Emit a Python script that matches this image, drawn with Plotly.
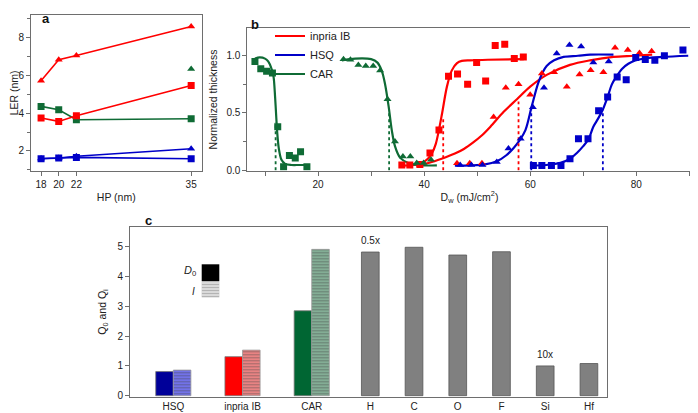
import plotly.graph_objects as go

FONT = "Liberation Sans, Arial, sans-serif"
RED = "#ff0000"
BLUE = "#0000c8"
GREEN = "#0f6b35"
AXC = "#6e6e6e"

# ---- panel a : LER vs half pitch
hp = [18, 20, 22, 35]
ler_inpria_tri = [5.70, 6.81, 7.03, 8.56]
ler_inpria_sq = [3.74, 3.56, 3.86, 5.45]
ler_car_sq = [4.35, 4.17, 3.65, 3.70]
ler_car_tri = [None, None, None, 6.32]
ler_hsq_tri = [1.60, 1.63, 1.72, 2.12]
ler_hsq_sq = [1.59, 1.63, 1.66, 1.59]

# ---- panel b : contrast curves (measured points)
car_sq_d = [8.1, 9.2, 10.3, 11.4, 12.4, 13.5, 14.6, 15.7, 16.7, 17.9]
car_sq_t = [0.95, 0.886, 0.865, 0.85, 0.38, 0.03, 0.127, 0.107, 0.16, 0.03]
car_tri_d = [24.8, 26.1, 27.6, 29.0, 30.4, 31.7, 33.1, 34.5, 36.0, 37.4, 38.6, 39.9, 41.3]
car_tri_t = [0.97, 0.965, 0.92, 0.91, 0.91, 0.87, 0.62, 0.25, 0.12, 0.12, 0.063, 0.063, 0.09]
inp_sq_d = [35.8, 37.3, 39.2, 41.1, 42.8, 44.6, 46.3, 48.2, 49.9, 51.6, 53.4, 55.2, 57.0, 58.7]
inp_sq_t = [0.045, 0.045, 0.05, 0.15, 0.35, 0.82, 0.84, 0.75, 0.94, 0.78, 1.09, 1.10, 0.975, 0.99]
inp_tri_d = [46.2, 48.6, 50.9, 53.1, 55.4, 57.8, 60.0, 62.2, 64.5, 66.9, 69.3, 71.4, 73.8, 76.0, 78.4, 80.6, 82.9]
inp_tri_t = [0.06, 0.06, 0.06, 0.465, 0.72, 0.75, 0.66, 0.845, 0.856, 0.73, 0.835, 0.873, 0.856, 1.07, 1.05, 1.025, 1.04]
hsq_tri_d = [46.8, 48.9, 51.0, 53.7, 55.9, 58.2, 60.5, 62.6, 65.0, 67.4, 69.6, 71.9, 74.8]
hsq_tri_t = [0.045, 0.045, 0.045, 0.07, 0.19, 0.275, 0.55, 0.72, 1.02, 1.095, 1.08, 0.94, 0.95]
hsq_sq_d = [60.6, 62.2, 64.0, 65.8, 67.5, 69.1, 70.9, 72.9, 74.6, 76.4, 78.1, 79.9, 81.7, 83.5, 85.3, 88.8]
hsq_sq_t = [0.04, 0.04, 0.04, 0.04, 0.10, 0.275, 0.275, 0.52, 0.64, 0.815, 0.79, 0.985, 0.967, 0.96, 1.0, 1.05]

# fitted curves
car_sq_fit_d = [8.1, 9.0, 10.0, 10.6, 11.2, 11.6, 11.9, 12.1, 12.3, 12.6, 13.1, 13.8, 15.0, 16.5, 18.4]
car_sq_fit_t = [0.975, 0.985, 0.975, 0.95, 0.89, 0.82, 0.64, 0.48, 0.33, 0.19, 0.09, 0.055, 0.045, 0.045, 0.045]
car_tri_fit_d = [24.5, 27.0, 30.0, 31.2, 32.0, 32.6, 33.3, 33.9, 34.5, 35.5, 37.0, 39.6, 42.4]
car_tri_fit_t = [0.96, 0.975, 0.97, 0.94, 0.87, 0.76, 0.56, 0.35, 0.21, 0.107, 0.063, 0.042, 0.042]
inp_sq_fit_d = [36.0, 38.0, 39.5, 40.7, 41.5, 42.2, 42.7, 43.4, 44.3, 45.2, 46.2, 47.1, 48.7, 52.0, 58.8]
inp_sq_fit_t = [0.04, 0.045, 0.06, 0.10, 0.15, 0.23, 0.33, 0.50, 0.73, 0.87, 0.935, 0.955, 0.96, 0.965, 0.97]
inp_tri_fit_d = [38.5, 41.0, 43.3, 45.8, 47.5, 49.2, 50.8, 52.5, 55.0, 57.5, 60.0, 63.2, 67.5, 71.3, 75.7, 79.5, 83.0]
inp_tri_fit_t = [0.04, 0.065, 0.10, 0.145, 0.185, 0.24, 0.30, 0.38, 0.51, 0.62, 0.73, 0.835, 0.92, 0.96, 0.99, 1.0, 1.01]
hsq_tri_fit_d = [45.8, 48.7, 51.5, 53.7, 55.5, 56.8, 58.0, 59.1, 60.3, 61.5, 62.3, 63.1, 64.5, 66.3, 69.0, 71.3, 75.7]
hsq_tri_fit_t = [0.04, 0.042, 0.05, 0.077, 0.13, 0.19, 0.26, 0.35, 0.56, 0.76, 0.85, 0.91, 0.96, 0.99, 1.0, 1.01, 1.01]
hsq_sq_fit_d = [60.3, 63.0, 65.7, 67.5, 68.8, 70.0, 71.0, 71.9, 72.8, 73.7, 74.6, 75.4, 76.3, 77.3, 78.5, 79.8, 82.0, 85.0, 89.8]
hsq_sq_fit_t = [0.04, 0.045, 0.063, 0.10, 0.15, 0.21, 0.27, 0.38, 0.45, 0.53, 0.64, 0.75, 0.82, 0.885, 0.93, 0.958, 0.98, 0.99, 1.0]

dose_marks = [12.0, 33.4, 43.6, 57.8, 60.2, 73.7]
dose_tops = [0.42, 0.50, 0.45, 0.60, 0.56, 0.53]
dose_cols = [GREEN, GREEN, RED, RED, BLUE, BLUE]

# ---- panel c : Q values
resists = ["HSQ", "inpria IB", "CAR"]
q_d0 = [0.81, 1.31, 2.85]
q_i = [0.86, 1.53, 4.91]
d0_colors = ["#000099", "#ff0000", "#006633"]
i_colors = ["#7878ff", "#ff8c8c", "#8cbca0"]
elements = ["H", "C", "O", "F", "Si", "Hf"]
q_el = [4.82, 4.98, 4.72, 4.83, 1.0, 1.08]
el_notes = {"H": "0.5x", "Si": "10x"}

fig = go.Figure()

# panel a
def a_line(y, col, sym):
    fig.add_trace(go.Scatter(x=hp, y=y, mode="lines+markers", xaxis="x", yaxis="y",
                             line=dict(color=col, width=1.6),
                             marker=dict(symbol=sym, size=7, color=col),
                             showlegend=False, connectgaps=False))

a_line(ler_inpria_tri, RED, "triangle-up")
a_line(ler_car_sq, GREEN, "square")
a_line(ler_inpria_sq, RED, "square")
a_line(ler_car_tri, GREEN, "triangle-up")
a_line(ler_hsq_tri, BLUE, "triangle-up")
a_line(ler_hsq_sq, BLUE, "square")

# panel b
fits = [
    (inp_sq_fit_d, inp_sq_fit_t, RED, "inpria IB", True, 1),
    (inp_tri_fit_d, inp_tri_fit_t, RED, "inpria IB", False, 1),
    (hsq_tri_fit_d, hsq_tri_fit_t, BLUE, "HSQ", True, 2),
    (hsq_sq_fit_d, hsq_sq_fit_t, BLUE, "HSQ", False, 2),
    (car_sq_fit_d, car_sq_fit_t, GREEN, "CAR", True, 3),
    (car_tri_fit_d, car_tri_fit_t, GREEN, "CAR", False, 3),
]
for d, t, col, name, show, rank in fits:
    fig.add_trace(go.Scatter(x=d, y=t, mode="lines", xaxis="x2", yaxis="y2",
                             line=dict(color=col, width=2.2, shape="spline", smoothing=0.9),
                             name=name, showlegend=show, legendrank=rank, legendgroup=name))

for xv, top, col in zip(dose_marks, dose_tops, dose_cols):
    fig.add_trace(go.Scatter(x=[xv, xv], y=[0, top], mode="lines", xaxis="x2", yaxis="y2",
                             line=dict(color=col, width=1.8, dash="dot"), showlegend=False))

pts = [
    (inp_sq_d, inp_sq_t, RED, "square"),
    (inp_tri_d, inp_tri_t, RED, "triangle-up"),
    (hsq_tri_d, hsq_tri_t, BLUE, "triangle-up"),
    (hsq_sq_d, hsq_sq_t, BLUE, "square"),
    (car_sq_d, car_sq_t, GREEN, "square"),
    (car_tri_d, car_tri_t, GREEN, "triangle-up"),
]
for d, t, col, sym in pts:
    fig.add_trace(go.Scatter(x=d, y=t, mode="markers", xaxis="x2", yaxis="y2",
                             marker=dict(symbol=sym, size=7, color=col), showlegend=False))

# panel c
fig.add_trace(go.Bar(x=resists, y=q_d0, xaxis="x3", yaxis="y3", offset=-0.254, width=0.254,
                     marker=dict(color=d0_colors, line=dict(color="#777777", width=0.8)),
                     showlegend=False))
fig.add_trace(go.Bar(x=resists, y=q_i, xaxis="x3", yaxis="y3", offset=0, width=0.254,
                     marker=dict(color=i_colors, line=dict(color="#999999", width=0.8),
                                 pattern=dict(shape="-", fgcolor=i_colors, bgcolor="white",
                                              size=3, solidity=0.5)),
                     showlegend=False))
fig.add_trace(go.Bar(x=elements, y=q_el, xaxis="x4", yaxis="y4", width=0.405,
                     marker=dict(color="#808080", line=dict(color="#555555", width=0.8)),
                     showlegend=False))

# the page body adds an 8px margin; the figure is sized so it still fills the window
OFF = 8
W, H = 698 - OFF, 413 - OFF
def px(v):
    return (v - OFF) / W
def py(v):
    return 1 - (v - OFF) / H

ax = dict(showline=True, linecolor=AXC, linewidth=1, ticks="outside", ticklen=4,
          tickcolor=AXC, tickfont=dict(size=10, color="#222"), showgrid=False,
          zeroline=False, automargin=False, title_font=dict(size=10.5, color="#222"))

fig.update_layout(
    width=W, height=H, margin=dict(l=0, r=0, t=0, b=0, autoexpand=False),
    paper_bgcolor="white", plot_bgcolor="white",
    font=dict(family=FONT, color="#222"),
    barmode="group",
    xaxis=dict(ax, domain=[px(31), px(201.5)], range=[16.86, 36.17], anchor="y", mirror=True,
               tickvals=hp, title=dict(text="HP (nm)", standoff=4)),
    yaxis=dict(ax, domain=[py(170.7), py(15)], range=[0.96, 9.17], anchor="x", mirror=True,
               tick0=0, dtick=2, minor=dict(dtick=1, ticks="outside", ticklen=3, tickcolor=AXC),
               title=dict(text="LER (nm)", standoff=6)),
    xaxis2=dict(ax, domain=[px(247.3), px(691.7)], range=[6.66, 90.45], anchor="y2", mirror=True,
                tick0=0, dtick=20, minor=dict(dtick=10, ticks="outside", ticklen=4, tickcolor=AXC),
                title=dict(text="D<sub>w</sub> (mJ/cm<sup>2</sup>)", standoff=4)),
    yaxis2=dict(ax, domain=[py(170.7), py(28.3)], range=[-0.005, 1.24], anchor="x2", mirror=True,
                tick0=0, dtick=0.5, tickformat=".1f",
                minor=dict(dtick=0.25, ticks="outside", ticklen=3, tickcolor=AXC),
                title=dict(text="Normalized thickness", standoff=6)),
    xaxis3=dict(ax, domain=[px(130), px(341)], range=[-0.626, 2.423], anchor="y3", mirror=True,
                ticks="", type="category"),
    yaxis3=dict(ax, domain=[py(396.7), py(227.3)], range=[-0.033, 5.65], anchor="x3",
                dtick=1, title=dict(text="Q<sub>0</sub> and Q<sub>i</sub>", standoff=8)),
    xaxis4=dict(ax, domain=[px(341), px(607.3)], range=[-0.67, 5.42], anchor="y4", mirror=True,
                ticks="", type="category"),
    yaxis4=dict(ax, domain=[py(396.7), py(227.3)], range=[-0.033, 5.65], anchor="x4",
                side="right", ticks="", showticklabels=False),
    legend=dict(x=px(270), y=py(21.5), xanchor="left", yanchor="top", bgcolor="rgba(0,0,0,0)",
                font=dict(size=11, color="#222"), tracegroupgap=0, itemwidth=30),
)

anns = [
    dict(text="<b>a</b>", x=px(40), y=py(9)),
    dict(text="<b>b</b>", x=px(255), y=py(15)),
    dict(text="<b>c</b>", x=px(143), y=py(220.5)),
]
for a in anns:
    fig.add_annotation(a, xref="paper", yref="paper", showarrow=False,
                       font=dict(size=13, family=FONT, color="#111"))

for el, note in el_notes.items():
    fig.add_annotation(x=el, y=q_el[elements.index(el)], xref="x4", yref="y4", text=note,
                       showarrow=False, yanchor="bottom", yshift=4, font=dict(size=10))

# legend of panel c
fig.add_annotation(x=px(198), y=py(271), xref="paper", yref="paper", xanchor="right",
                   yanchor="middle", text="<i>D</i><sub>0</sub>", showarrow=False,
                   font=dict(size=11))
fig.add_annotation(x=px(197), y=py(291), xref="paper", yref="paper", xanchor="right",
                   yanchor="middle", text="<i>I</i>", showarrow=False, font=dict(size=10))
sx0, sx1 = px(201.7), px(219.3)
fig.add_shape(type="rect", xref="paper", yref="paper", x0=sx0, x1=sx1, y0=py(281), y1=py(264.3),
              fillcolor="black", line=dict(width=0))
fig.add_shape(type="rect", xref="paper", yref="paper", x0=sx0, x1=sx1, y0=py(297.3), y1=py(281),
              fillcolor="#b4b4b4", line=dict(width=0))
for k in range(5):
    yy = py(283 + 3 * k)
    fig.add_shape(type="line", xref="paper", yref="paper", x0=sx0, x1=sx1, y0=yy, y1=yy,
                  line=dict(color="white", width=1))

fig.write_html("out.html")
